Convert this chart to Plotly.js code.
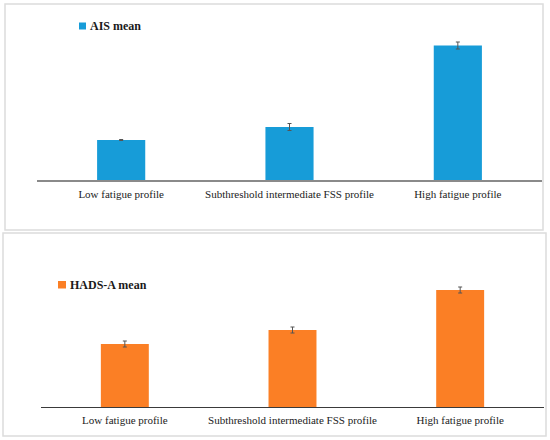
<!DOCTYPE html>
<html>
<head>
<meta charset="utf-8">
<script src="https://cdn.plot.ly/plotly-3.0.1.min.js"></script>
<style>html,body{margin:0;padding:0;background:#fff;}#chart{width:550px;height:440px;}</style>
</head>
<body>
<div id="chart"></div>
<script>
// Data (no y-axis in the original; units estimated)
const categories = ["Low fatigue profile", "Subthreshold intermediate FSS profile", "High fatigue profile"];
const aisName = "AIS mean";
const aisMean = [4.0, 5.3, 13.45];
const aisErr = [0.05, 0.35, 0.35];
const hadsName = "HADS-A mean";
const hadsMean = [6.3, 7.7, 11.7];
const hadsErr = [0.3, 0.3, 0.3];

const W = 550, H = 440;
const px = v => v / W;
const py = v => 1 - v / H;

const serif = "Liberation Serif, Times New Roman, serif";

const traces = [
  {
    type: "bar", name: aisName, x: categories, y: aisMean,
    xaxis: "x", yaxis: "y",
    marker: {color: "#179cd8"},
    error_y: {type: "data", array: aisErr, visible: true, color: "#555555", thickness: 1, width: 2},
    showlegend: false, hoverinfo: "x+y"
  },
  {
    type: "bar", name: hadsName, x: categories, y: hadsMean,
    xaxis: "x2", yaxis: "y2",
    marker: {color: "#fb7f25"},
    error_y: {type: "data", array: hadsErr, visible: true, color: "#555555", thickness: 1, width: 2},
    showlegend: false, hoverinfo: "x+y"
  }
];

const layout = {
  width: W, height: H,
  margin: {l: 0, r: 0, t: 0, b: 0, pad: 0},
  paper_bgcolor: "#ffffff", plot_bgcolor: "rgba(0,0,0,0)",
  bargap: 0.714,
  font: {family: serif, size: 11, color: "#222222"},
  xaxis: {
    domain: [px(37), px(542)], anchor: "y",
    showline: true, linecolor: "#8a8a8a", linewidth: 1.6,
    ticks: "", showgrid: false, zeroline: false,
    tickfont: {family: serif, size: 11, color: "#222222"},
    ticklabelstandoff: 3
  },
  yaxis: {
    domain: [py(180), py(20)], anchor: "x",
    range: [0, 16], visible: false, showgrid: false, zeroline: false
  },
  xaxis2: {
    domain: [px(41), px(544)], anchor: "y2",
    showline: true, linecolor: "#3a3a3a", linewidth: 1.2,
    ticks: "", showgrid: false, zeroline: false,
    tickfont: {family: serif, size: 11, color: "#222222"},
    ticklabelstandoff: 3
  },
  yaxis2: {
    domain: [py(407), py(247)], anchor: "x2",
    range: [0, 16], visible: false, showgrid: false, zeroline: false
  },
  shapes: [
    {type: "rect", xref: "paper", yref: "paper", x0: px(5), x1: px(543), y0: py(230), y1: py(4),
     line: {color: "#dcdcdc", width: 1.5}, fillcolor: "rgba(0,0,0,0)", layer: "below"},
    {type: "rect", xref: "paper", yref: "paper", x0: px(3), x1: px(546), y0: py(436), y1: py(233),
     line: {color: "#dcdcdc", width: 1.5}, fillcolor: "rgba(0,0,0,0)", layer: "below"},
    {type: "rect", xref: "paper", yref: "paper", x0: px(79), x1: px(86), y0: py(29.5), y1: py(22.5),
     line: {width: 0}, fillcolor: "#179cd8"},
    {type: "rect", xref: "paper", yref: "paper", x0: px(58), x1: px(66), y0: py(288.5), y1: py(281),
     line: {width: 0}, fillcolor: "#fb7f25"}
  ],
  annotations: [
    {xref: "paper", yref: "paper", x: px(88), y: py(26), xanchor: "left", yanchor: "middle",
     text: "<b>" + aisName + "</b>", showarrow: false,
     font: {family: serif, size: 12, color: "#1a1a1a"}},
    {xref: "paper", yref: "paper", x: px(68), y: py(285), xanchor: "left", yanchor: "middle",
     text: "<b>" + hadsName + "</b>", showarrow: false,
     font: {family: serif, size: 12, color: "#1a1a1a"}}
  ]
};

Plotly.newPlot("chart", traces, layout, {displayModeBar: false, staticPlot: true});
</script>
</body>
</html>
